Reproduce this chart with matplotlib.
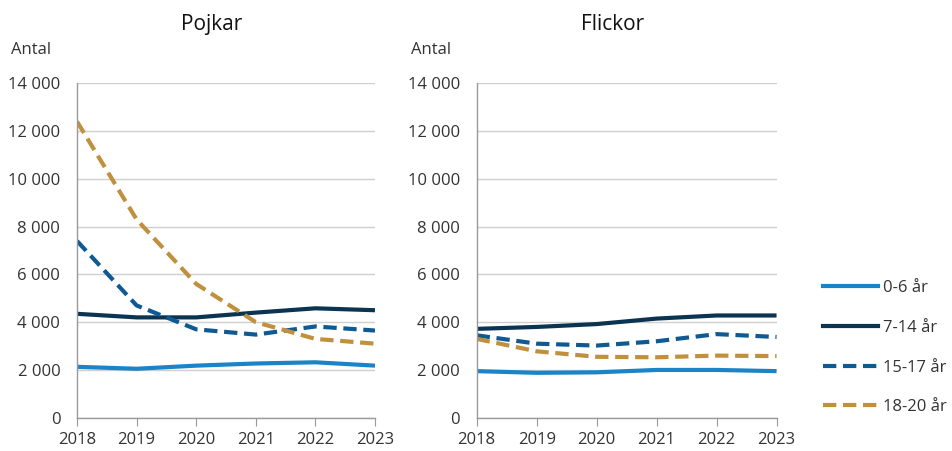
import matplotlib
matplotlib.use("Agg")
import matplotlib.pyplot as plt
from matplotlib.lines import Line2D

plt.rcParams['font.family'] = ['Open Sans', 'DejaVu Sans']

years = [2018, 2019, 2020, 2021, 2022, 2023]
series_names = ["0-6 år", "7-14 år", "15-17 år", "18-20 år"]

pojkar_0_6 = [2130, 2050, 2180, 2270, 2320, 2180]
pojkar_7_14 = [4350, 4200, 4200, 4400, 4580, 4500]
pojkar_15_17 = [7400, 4700, 3700, 3480, 3820, 3650]
pojkar_18_20 = [12400, 8300, 5600, 4000, 3300, 3100]

flickor_0_6 = [1950, 1880, 1900, 2000, 2000, 1950]
flickor_7_14 = [3720, 3800, 3920, 4150, 4280, 4280]
flickor_15_17 = [3450, 3100, 3020, 3200, 3500, 3380]
flickor_18_20 = [3300, 2780, 2550, 2530, 2600, 2580]

yticks = [0, 2000, 4000, 6000, 8000, 10000, 12000, 14000]
ytick_labels = ["0", "2 000", "4 000", "6 000", "8 000", "10 000", "12 000", "14 000"]

colors = ["#1984c7", "#0b3352", "#0f5a93", "#c0903f"]
styles = ["-", "-", (0, (3.2, 1.6)), (0, (3.2, 1.6))]
text_color = "#333333"

fig = plt.figure(figsize=(9.52, 4.51), dpi=100)
ax1 = fig.add_axes([0.0809, 0.0738, 0.313, 0.7415])
ax2 = fig.add_axes([0.5007, 0.0738, 0.315, 0.7415])

panels = [
    (ax1, "Pojkar", [pojkar_0_6, pojkar_7_14, pojkar_15_17, pojkar_18_20]),
    (ax2, "Flickor", [flickor_0_6, flickor_7_14, flickor_15_17, flickor_18_20]),
]

for ax, title, data in panels:
    for vals, c, ls in zip(data, colors, styles):
        ax.plot(years, vals, color=c, linestyle=ls, linewidth=3.0,
                solid_capstyle='butt', dash_capstyle='butt')
    ax.set_xlim(2018, 2023)
    ax.set_ylim(0, 14000)
    ax.set_yticks(yticks)
    ax.set_yticklabels(ytick_labels)
    ax.set_xticks(years)
    ax.grid(axis='y', color='#d0d0d0', linewidth=1.0)
    ax.set_axisbelow(True)
    for s in ['top', 'right']:
        ax.spines[s].set_visible(False)
    for s in ['left', 'bottom']:
        ax.spines[s].set_color('#999999')
        ax.spines[s].set_linewidth(1.0)
    ax.tick_params(axis='y', length=0, pad=12, labelsize=12, labelcolor=text_color)
    ax.tick_params(axis='x', length=6, color='#999999', pad=4, labelsize=12, labelcolor=text_color)
    ax.text(0.453, 1.175, title, transform=ax.transAxes, fontsize=15,
            color='#111111', ha='center', va='center')
    ax.text(-0.22, 1.10, "Antal", transform=ax.transAxes, fontsize=12,
            color=text_color, ha='left', va='center')

handles = [Line2D([0], [0], color=c, linestyle=ls, linewidth=3.0) for c, ls in zip(colors, styles)]
fig.legend(handles, series_names, loc='upper left', bbox_to_anchor=(0.856, 0.397),
           frameon=False, fontsize=12, labelcolor=text_color, handlelength=3.3,
           handletextpad=0.3, labelspacing=1.42, borderpad=0)

fig.savefig("out.png", dpi=100)
